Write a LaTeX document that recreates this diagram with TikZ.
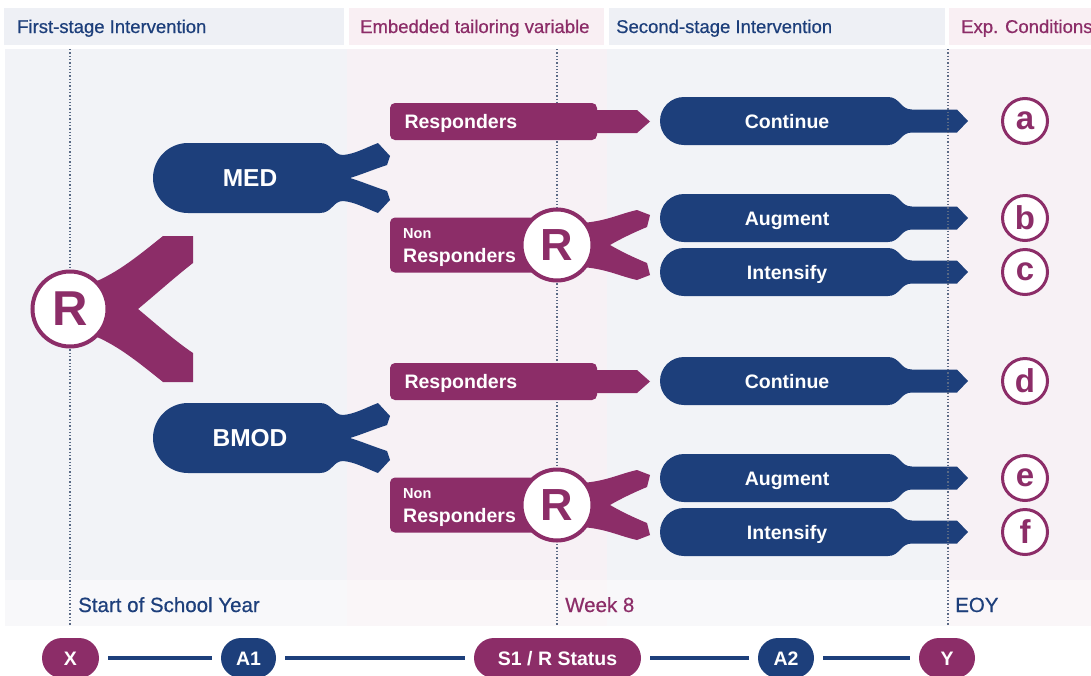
\documentclass[tikz,border=0pt]{standalone}
\usepackage{fontspec}
\setmainfont{Liberation Sans}
\newfontfamily\medfont{Liberation Sans}[FakeBold=0.6]
\definecolor{db}{HTML}{1D3F7B}
\definecolor{pu}{HTML}{8C2D68}
\definecolor{hb}{HTML}{EEF0F5}
\definecolor{hp}{HTML}{F9EFF3}
\definecolor{bb}{HTML}{F2F3F7}
\definecolor{bp}{HTML}{F7F1F5}
\definecolor{sb}{HTML}{F8F8FA}
\definecolor{sp}{HTML}{FAF6F8}
\definecolor{dotc}{HTML}{5A6A85}

\newcommand\stagetwo[3]{%
  \begin{scope}[shift={(0,-#1)}]
    \fill[db] (684,24) -- (888,24) .. controls (900,24) and (900,11.5) .. (912,11.5)
      -- (957,11.5) -- (968,0) -- (957,-11.5) -- (912,-11.5)
      .. controls (900,-11.5) and (900,-24) .. (888,-24) -- (684,-24)
      arc[start angle=270,end angle=90,radius=24pt] -- cycle;
    \node[wtxt] (#2) at (787,0) {#3};
  \end{scope}}

\newcommand\respbox[2]{%
  \begin{scope}[shift={(0,-#1)}]
    \fill[pu, rounded corners=5pt] (390,-18.5) rectangle (597,18.5);
    \fill[pu] (590,11.5) -- (637,11.5) -- (650,0) -- (637,-11.5) -- (590,-11.5) -- cycle;
    \node[wtxt, anchor=west] (#2) at (401,0) {Responders};
  \end{scope}}

\newcommand\nonresp[2]{%
  \begin{scope}[shift={(557,-#1)}]
    \fill[pu, rounded corners=5pt] (-167,-27.5) rectangle (0,27.5);
    \fill[pu] (25,22) .. controls (50,24) and (62,31) .. (80,35) -- (93,30) -- (90,18)
      .. controls (78,13) and (65,7) .. (53,0) .. controls (65,-7) and (78,-13) .. (90,-18)
      -- (93,-30) -- (80,-35) .. controls (62,-31) and (50,-24) .. (25,-22) -- cycle;
    \node[rsmall] (#2R) at (0,0) {R};
    \node[anchor=base west, text=white, font=\bfseries\fontsize{14.5}{16}\selectfont, inner sep=0pt] (#2n) at (-154,7) {Non};
    \node[wtxt, anchor=base west, inner sep=0pt] (#2t) at (-154,-17) {Responders};
  \end{scope}}

\newcommand\firststage[3]{%
  \begin{scope}[shift={(0,-#1)}]
    \fill[db] (188,35) -- (320,35) .. controls (332,35) and (333,23) .. (343,23)
      .. controls (355,24) and (365,30) .. (378,35) -- (390,22) -- (387,13)
      .. controls (372,8) and (360,3) .. (350,0) .. controls (360,-3) and (372,-8) .. (387,-13)
      -- (390,-22) -- (378,-35) .. controls (365,-30) and (355,-24) .. (343,-23)
      .. controls (333,-23) and (332,-35) .. (320,-35) -- (188,-35)
      arc[start angle=270,end angle=90,radius=35pt] -- cycle;
    \node[text=white, font=\bfseries\fontsize{24.5}{26}\selectfont, text height=17.5pt, text depth=0pt] (#2) at (250,0) {#3};
  \end{scope}}

\begin{document}
\begin{tikzpicture}[x=1pt,y=1pt,
  hdr/.style={anchor=base west, inner sep=0pt, font=\medfont\fontsize{18.5}{22}\selectfont},
  blab/.style={anchor=base west, inner sep=0pt, font=\medfont\fontsize{20.5}{24}\selectfont},
  wtxt/.style={text=white, font=\bfseries\fontsize{19.5}{22}\selectfont, text height=14pt, text depth=0pt},
  dotl/.style={dotc, dotted, line width=1.3pt},
  letc/.style={circle, draw=pu, line width=3pt, fill=white, minimum size=45pt, inner sep=0pt, text=pu, font=\bfseries\fontsize{33}{33}\selectfont},
  rbig/.style={circle, draw=pu, line width=4pt, fill=white, minimum size=75pt, inner sep=0pt, text=pu, font=\bfseries\fontsize{49}{49}\selectfont},
  rsmall/.style={circle, draw=pu, line width=4pt, fill=white, minimum size=71pt, inner sep=0pt, text=pu, font=\bfseries\fontsize{45}{45}\selectfont},
  pill/.style={rounded corners=20pt, minimum height=40pt, inner sep=0pt, text=white, font=\bfseries\fontsize{19.5}{22}\selectfont, text height=14pt, text depth=0pt},
  tline/.style={db, line width=3.5pt, shorten >=9pt, shorten <=9pt}]
\useasboundingbox (0,0) rectangle (1091,-675);
\fill[white] (0,0) rectangle (1091,-675);
% headers
\fill[hb] (4,-8) rectangle (344,-45);
\fill[hp] (349,-8) rectangle (604,-45);
\fill[hb] (609,-8) rectangle (945,-45);
\fill[hp] (949,-8) rectangle (1091,-45);
\node[hdr, text=db] (h1) at (17,-33) {First-stage Intervention};
\node[hdr, text=pu] (h2) at (360,-33) {Embedded tailoring variable};
\node[hdr, text=db] (h3) at (616,-33) {Second-stage Intervention};
\node[hdr, text=pu] (h4) at (961,-33) {Exp. Conditions};
% body
\fill[bb] (5,-49) rectangle (347,-580);
\fill[bp] (347,-49) rectangle (607,-580);
\fill[bb] (607,-49) rectangle (947,-580);
\fill[bp] (947,-49) rectangle (1091,-580);
\fill[sb] (5,-580) rectangle (347,-626);
\fill[sp] (347,-580) rectangle (607,-626);
\fill[sb] (607,-580) rectangle (947,-626);
\fill[sp] (947,-580) rectangle (1091,-626);
% dotted lines
\coordinate (d1t) at (70,-49); \coordinate (d1b) at (70,-626);
\coordinate (d2t) at (557,-49); \coordinate (d2b) at (557,-626);
\coordinate (d3t) at (948,-49); \coordinate (d3b) at (948,-626);
\draw[dotl] (d1t) -- (d1b);
\draw[dotl] (d2t) -- (d2b);
% big R
\begin{scope}[shift={(70,-309)}]
  \fill[pu] (20,25) .. controls (45,35) and (62,48) .. (93,73) -- (123,73) -- (123,46)
    .. controls (105,32) and (85,14) .. (68,0) .. controls (85,-14) and (105,-32) .. (123,-44)
    -- (123,-73) -- (93,-73) .. controls (62,-48) and (45,-35) .. (20,-25) -- cycle;
  \node[rbig] (R0) at (0,0) {R};
\end{scope}
% first stage
\firststage{178}{med}{MED}
\firststage{438}{bmod}{BMOD}
% tailoring
\respbox{121.5}{resp1}
\respbox{381.5}{resp2}
\nonresp{245}{non1}
\nonresp{505}{non2}
% second stage
\stagetwo{121}{c1}{Continue}
\stagetwo{218}{aug1}{Augment}
\stagetwo{272}{int1}{Intensify}
\stagetwo{381}{c2}{Continue}
\stagetwo{478}{aug2}{Augment}
\stagetwo{532}{int2}{Intensify}
\draw[dotl] (d3t) -- (d3b);
% conditions
\node[letc] (ca) at (1025,-121) {a};
\node[letc] (cb) at (1025,-218) {b};
\node[letc] (cc) at (1025,-272) {c};
\node[letc] (cd) at (1025,-381) {d};
\node[letc] (ce) at (1025,-478) {e};
\node[letc] (cf) at (1025,-532) {f};
% bottom labels
\node[blab, text=db] (l1) at (78,-612) {Start of School Year};
\node[blab, text=pu] (l2) at (565,-612) {Week 8};
\node[blab, text=db] (l3) at (955,-612) {EOY};
% timeline
\node[pill, fill=pu, minimum width=57pt] (tX) at (70.5,-658) {X};
\node[pill, fill=db, minimum width=55pt] (tA1) at (248.5,-658) {A1};
\node[pill, fill=pu, minimum width=167pt] (tS) at (557.5,-658) {S1 / R Status};
\node[pill, fill=db, minimum width=56pt] (tA2) at (786,-658) {A2};
\node[pill, fill=pu, minimum width=56pt] (tY) at (947,-658) {Y};
\draw[tline] (tX) -- (tA1);
\draw[tline] (tA1) -- (tS);
\draw[tline] (tS) -- (tA2);
\draw[tline] (tA2) -- (tY);
\end{tikzpicture}
\end{document}
